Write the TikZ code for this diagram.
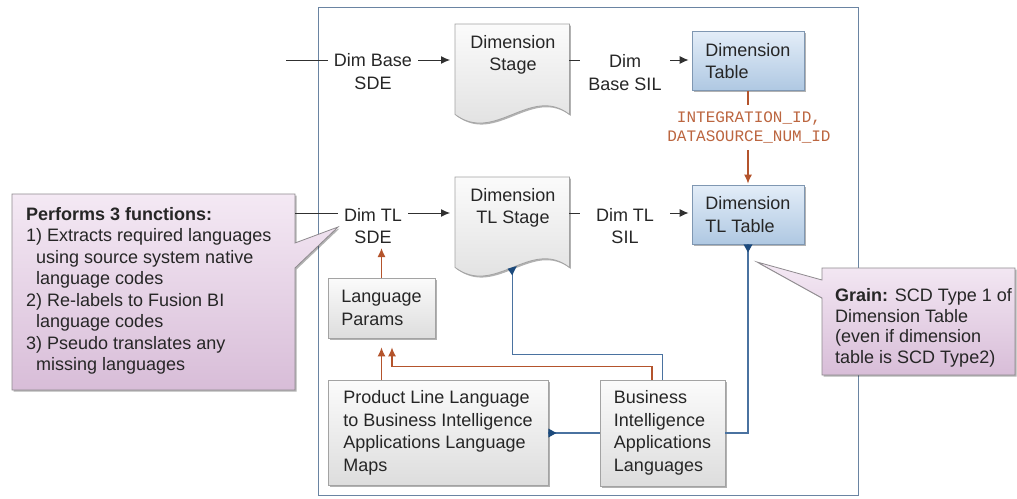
\documentclass[tikz,border=0pt]{standalone}
\usepackage{fontspec}
\setmainfont{Liberation Sans}
\setmonofont{Liberation Mono}
\usetikzlibrary{arrows.meta,shadows,calc}
\definecolor{frameC}{HTML}{6A84A2}
\definecolor{rust}{HTML}{B4542C}
\definecolor{idC}{HTML}{BC6640}
\definecolor{navy}{HTML}{4A72A0}
\definecolor{navyD}{HTML}{1C4A7C}
\definecolor{ink}{HTML}{262626}
\definecolor{lineC}{HTML}{303030}
\definecolor{boxB}{HTML}{A3A3A3}
\definecolor{boxT}{HTML}{FBFBFB}
\definecolor{boxBot}{HTML}{DDDDDD}
\definecolor{blueB}{HTML}{7F97B2}
\definecolor{blueT}{HTML}{E3EDF8}
\definecolor{blueBot}{HTML}{AFC8E2}
\definecolor{pinkB}{HTML}{8E8A8E}
\definecolor{pinkT}{HTML}{F4E9F4}
\definecolor{pinkBot}{HTML}{D8BDD8}
\tikzset{
  shad/.style={drop shadow={shadow xshift=1.5pt,shadow yshift=-1.5pt,fill=black,opacity=0.3}},
  txt/.style={font=\fontsize{18}{22.5}\selectfont, text=ink, align=center, inner xsep=6pt, inner ysep=2pt},
  silw/.style={minimum width=90pt, inner xsep=0pt},
  graybox/.style={draw=boxB, line width=0.8pt, top color=boxT, bottom color=boxBot, shad,
    font=\fontsize{18}{22.5}\selectfont, text=ink, align=left, inner sep=0pt},
  bluebox/.style={draw=blueB, line width=0.8pt, top color=blueT, bottom color=blueBot, shad,
    font=\fontsize{18}{22.5}\selectfont, text=ink, align=left, inner sep=0pt,
    minimum width=112pt, minimum height=59pt},
  docbox/.style={minimum width=114pt, minimum height=90pt, inner sep=0pt},
  docshape/.style={draw=boxB, line width=0.8pt, top color=boxT, bottom color=boxBot, shad},
  callout/.style={draw=pinkB, line width=0.8pt, top color=pinkT, bottom color=pinkBot, shad},
  ctext/.style={font=\fontsize{18}{21.5}\selectfont, text=ink, align=left, inner sep=0pt},
  ln/.style={draw=lineC, line width=1pt},
  arr/.style={draw=lineC, line width=1pt, -{Latex[length=9pt,width=8pt]}},
  rarr/.style={draw=rust, line width=1.2pt, -{Latex[length=9pt,width=8pt]}},
  bline/.style={draw=navy, line width=1.3pt},
  tri/.style={fill=navyD},
  idtext/.style={font=\fontsize{16}{19}\selectfont\ttfamily, text=idC, align=center, fill=white, inner xsep=2pt, inner ysep=7pt},
  framebox/.style={draw=frameC, line width=1.3pt, inner sep=0pt}
}
\begin{document}
\begin{tikzpicture}[x=1pt,y=-1pt]
\useasboundingbox (0,0) rectangle (1017,498);
\fill[white] (0,0) rectangle (1017,498);
% frame
\node[framebox, anchor=north west, minimum width=540pt, minimum height=488pt] (frame) at (318,7) {};

% callouts
\path[callout] (12,194) -- (295,194) -- (295,243) -- (338,227) -- (295,268) -- (295,390) -- (12,390) -- cycle;
\node[ctext, anchor=west] (callL) at (26,291) {\textbf{Performs 3 functions:}\\
1) Extracts required languages\\
\hspace*{10pt}using source system native\\
\hspace*{10pt}language codes\\
2) Re-labels to Fusion BI\\
\hspace*{10pt}language codes\\
3) Pseudo translates any\\
\hspace*{10pt}missing languages};
\path[callout] (822,268) -- (1015,268) -- (1015,375) -- (822,375) -- (822,298) -- (757,262) -- (822,280) -- cycle;
\node[ctext, anchor=west, font=\fontsize{18}{20.5}\selectfont] (callR) at (835,328) {\textbf{Grain:} SCD Type 1 of\\
Dimension Table\\
(even if dimension\\
table is SCD Type2)};

% row 1
\coordinate (in1) at (286,60);
\node[txt] (sde1) at (373,71.5) {Dim Base\\SDE};
\node[docbox, anchor=north west] (ds1) at (455,24) {};
\path[docshape] (ds1.north west) -- (ds1.north east) -- (ds1.south east) .. controls +(-39,-30) and +(40,30) .. (ds1.south west) -- cycle;
\node[txt] (ds1t) at (513,55) {Dimension\\Stage};
\node[txt, silw] (sil1) at (625,72.5) {Dim\\Base SIL};
\node[bluebox] (dt1) at (748,61) {Dimension\\Table};

\draw[ln] (in1) -- (sde1.west |- in1);
\draw[arr, shorten >=5pt] (sde1.east |- in1) -- (ds1.west |- in1);
\draw[ln] (ds1.east |- in1) -- (sil1.west |- in1);
\draw[arr, shorten >=3pt] (sil1.east |- in1) -- (dt1.west |- in1);

% row 2
\coordinate (in2) at (295,213);
\node[txt] (sde2) at (373,226) {Dim TL\\SDE};
\node[docbox, anchor=north west] (ds2) at (455,177) {};
\path[docshape] (ds2.north west) -- (ds2.north east) -- (ds2.south east) .. controls +(-39,-30) and +(40,30) .. (ds2.south west) -- cycle;
\node[txt] (ds2t) at (513,208) {Dimension\\TL Stage};
\node[txt, silw] (sil2) at (625,226) {Dim TL\\SIL};
\node[bluebox] (dtt) at (748,214.5) {Dimension\\TL Table};

\draw[ln] (in2) -- (sde2.west |- in2);
\draw[arr, shorten >=5pt] (sde2.east |- in2) -- (ds2.west |- in2);
\draw[ln] (ds2.east |- in2) -- (sil2.west |- in2);
\draw[arr, shorten >=3pt] (sil2.east |- in2) -- (dtt.west |- in2);

% lower boxes
\node[graybox, minimum width=107pt, minimum height=60pt] (lp) at (381.5,308) {Language\\Params};
\node[graybox, minimum width=220pt, minimum height=105pt] (pl) at (438,433) {Product Line Language\\to Business Intelligence\\Applications Language\\Maps};
\node[graybox, minimum width=125pt, minimum height=106pt] (bial) at (662.5,433) {Business\\Intelligence\\Applications\\Languages};

% orange connectors
\draw[rarr, shorten >=1pt] (dt1.south) -- (dtt.north);
\node[idtext] (ids) at (749,127.5) {INTEGRATION\_ID,\\DATASOURCE\_NUM\_ID};
\draw[rarr, shorten >=2pt] (lp.north) -- (lp.north |- sde2.south);
\draw[rarr, shorten >=9pt] (pl.north -| lp.south) -- (lp.south);
\draw[rarr, shorten >=9pt] ($(bial.north)+(-10.5,0)$) -- ++(0,-13) -| ($(lp.south)+(10.5,0)$);

% blue connectors
\draw[bline] (bial.north) -- ++(0,-25) -| (ds2.south);
\draw[bline] (bial.east) -| (dtt.south);
\draw[bline] (bial.west) -- (bial.west -| pl.east);
\fill[tri] ($(ds2.south)+(-4.5,1.3)$) -- ($(ds2.south)+(4.5,-1.3)$) -- ($(ds2.south)+(0,8)$) -- cycle;
\fill[tri] ($(dtt.south)+(-4.5,0)$) -- ($(dtt.south)+(4.5,0)$) -- ($(dtt.south)+(0,8)$) -- cycle;
\fill[tri] ($(pl.east)+(0,-4.5)$) -- ($(pl.east)+(0,4.5)$) -- ($(pl.east)+(8,0)$) -- cycle;
\end{tikzpicture}
\end{document}
